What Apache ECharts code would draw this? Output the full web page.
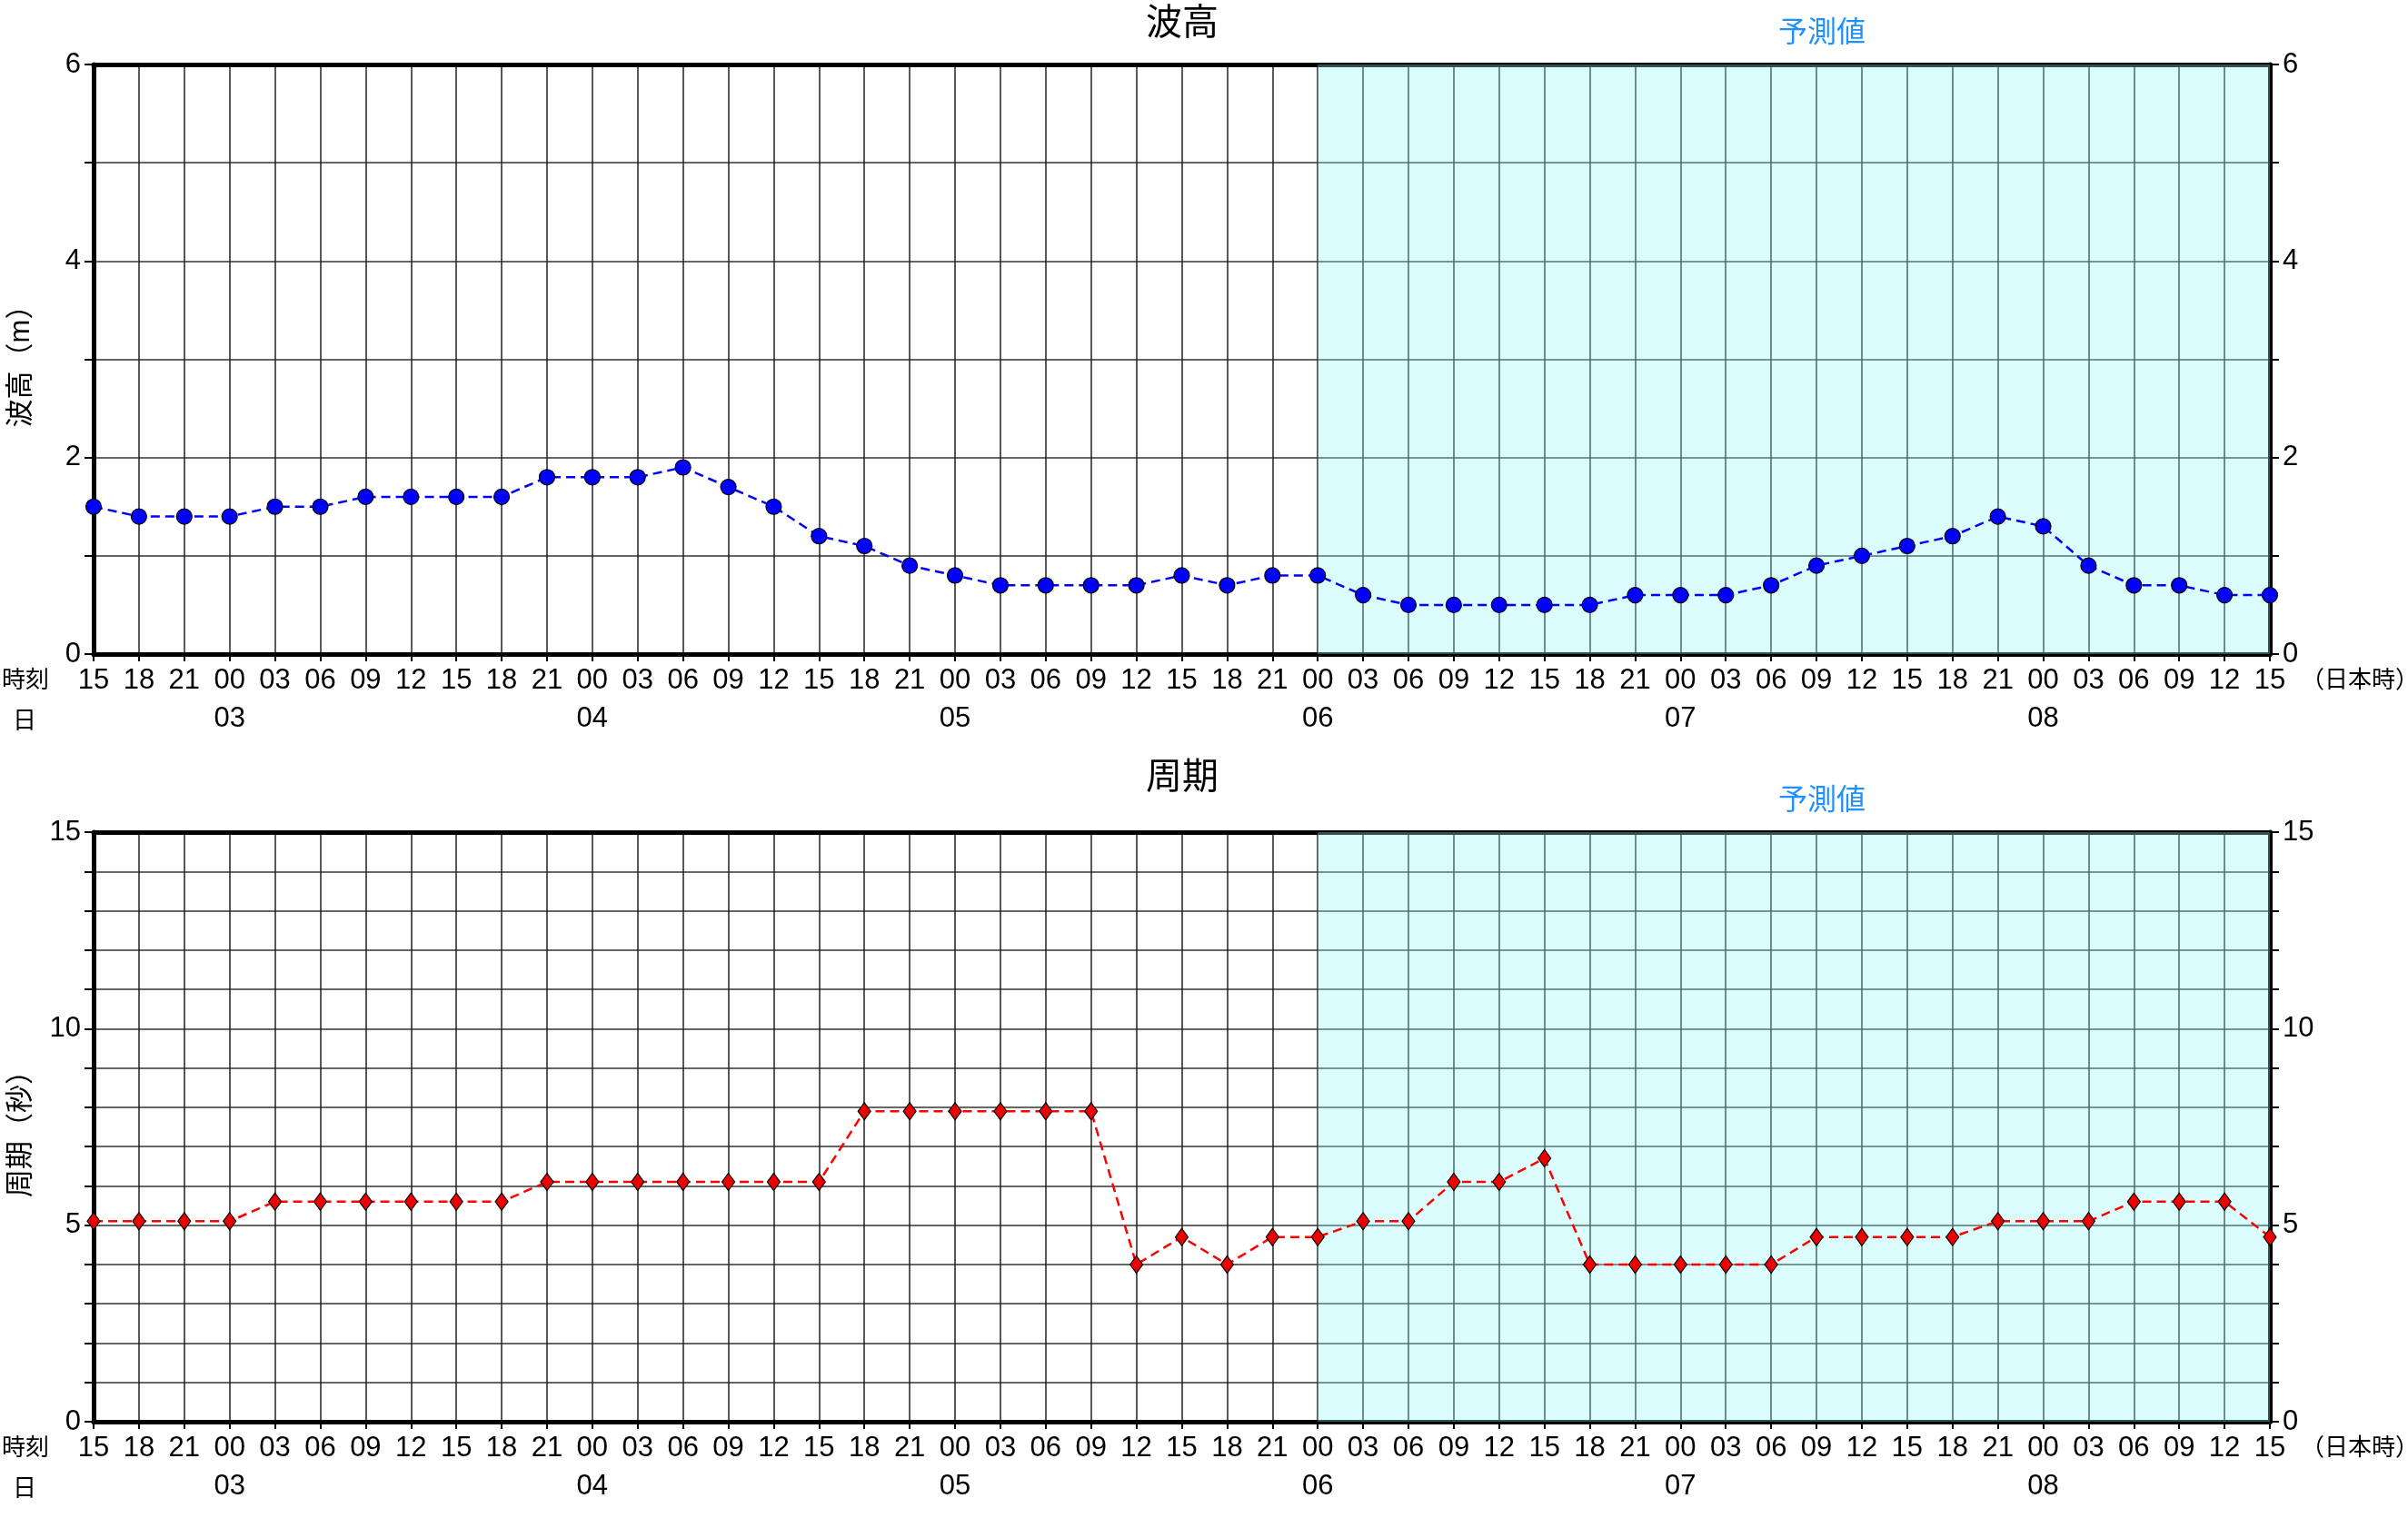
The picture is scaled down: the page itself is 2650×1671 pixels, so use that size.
<!DOCTYPE html>
<html><head><meta charset="utf-8">
<script src="https://cdn.jsdelivr.net/npm/echarts@6/dist/echarts.min.js"></script>
<style>html,body{margin:0;padding:0;background:#fff}#c{width:2650px;height:1671px}</style>
</head><body><div id="c"></div>
<script>
const hours = ['15','18','21','00','03','06','09','12','15','18','21','00','03','06','09','12','15','18','21','00','03','06','09','12','15','18','21','00','03','06','09','12','15','18','21','00','03','06','09','12','15','18','21','00','03','06','09','12','15'];
const days = ['','','','03','','','','','','','','04','','','','','','','','05','','','','','','','','06','','','','','','','','07','','','','','','','','08','','','','',''];
const waveHeight = [1.5,1.4,1.4,1.4,1.5,1.5,1.6,1.6,1.6,1.6,1.8,1.8,1.8,1.9,1.7,1.5,1.2,1.1,0.9,0.8,0.7,0.7,0.7,0.7,0.8,0.7,0.8,0.8,0.6,0.5,0.5,0.5,0.5,0.5,0.6,0.6,0.6,0.7,0.9,1.0,1.1,1.2,1.4,1.3,0.9,0.7,0.7,0.6,0.6];
const wavePeriod = [5.1,5.1,5.1,5.1,5.6,5.6,5.6,5.6,5.6,5.6,6.1,6.1,6.1,6.1,6.1,6.1,6.1,7.9,7.9,7.9,7.9,7.9,7.9,4.0,4.7,4.0,4.7,4.7,5.1,5.1,6.1,6.1,6.7,4.0,4.0,4.0,4.0,4.0,4.7,4.7,4.7,4.7,5.1,5.1,5.1,5.6,5.6,5.6,4.7];
const forecastStart = '06';
const idx = i => String(i);
const cats = hours.map((h,i)=>idx(i));
const fs = 31, font = "'Liberation Sans','Noto Sans CJK JP',sans-serif";
const grids = [{left:95,right:152,top:71,height:649},{left:95,right:152,top:916,height:649}];
function xAxes(g){
  return [
    {type:'category',gridIndex:g,data:cats,boundaryGap:false,position:'bottom',
     axisLine:{lineStyle:{color:'#000',width:5}},axisTick:{show:true,interval:0,length:8,lineStyle:{color:'#000',width:2}},
     axisLabel:{interval:0,formatter:(v)=>hours[+v],color:'#000',fontSize:fs,fontFamily:font,margin:14},
     splitLine:{show:true,interval:0,lineStyle:{color:'#222',width:1.5}}},
    {type:'category',gridIndex:g,data:cats,boundaryGap:false,position:'bottom',offset:42,
     axisLine:{show:false},axisTick:{show:false},splitLine:{show:false},
     axisLabel:{interval:0,formatter:(v)=>days[+v],color:'#000',fontSize:fs,fontFamily:font,margin:14}},
    {type:'category',gridIndex:g,data:cats,boundaryGap:false,position:'top',splitLine:{show:false},
     axisLine:{lineStyle:{color:'#000',width:5}},axisTick:{show:false},axisLabel:{show:false}}
  ];
}
function yAxes(g,max,iv,name){
  const common={type:'value',gridIndex:g,min:0,max:max,interval:1,
    axisLabel:{color:'#000',fontSize:fs,fontFamily:font,margin:14,formatter:v=>(v%iv===0?String(v):'')},
    axisTick:{show:true,length:10,lineStyle:{color:'#000',width:2}},
    axisLine:{show:true,lineStyle:{color:'#000',width:5}}};
  return [
    Object.assign({},common,{position:'left',name:name,nameLocation:'middle',nameGap:64,nameRotate:90,
      nameTextStyle:{color:'#000',fontSize:fs,fontFamily:font},
      splitLine:{show:true,lineStyle:{color:'#333',width:1.5}}}),
    Object.assign({},common,{position:'right',splitLine:{show:false}})
  ];
}
const fi = days.indexOf(forecastStart);
const area = {silent:true,itemStyle:{color:'rgba(150,250,250,0.33)'},data:[[{xAxis:idx(fi)},{xAxis:idx(hours.length-1)}]]};
const option = {
  backgroundColor:'#fff',animation:false,
  title:[
    {text:'波高',left:1296,top:2,textAlign:'center',textStyle:{fontSize:40,fontWeight:'normal',color:'#000',fontFamily:font}},
    {text:'周期',left:1296,top:832,textAlign:'center',textStyle:{fontSize:40,fontWeight:'normal',color:'#000',fontFamily:font}},
    {text:'予測値',left:2000,top:16,textAlign:'center',textStyle:{fontSize:32,fontWeight:'normal',color:'#1e90ff',fontFamily:font}},
    {text:'予測値',left:2000,top:861,textAlign:'center',textStyle:{fontSize:32,fontWeight:'normal',color:'#1e90ff',fontFamily:font}}
  ],
  grid:grids,
  xAxis:[...xAxes(0),...xAxes(1)],
  yAxis:[...yAxes(0,6,2,'波高（m）'),...yAxes(1,15,5,'周期（秒）')],
  graphic:[
    {type:'text',left:2,top:737,style:{text:'時刻',fontSize:26,fontFamily:font,fill:'#000'}},
    {type:'text',left:14,top:782,style:{text:'日',fontSize:26,fontFamily:font,fill:'#000'}},
    {type:'text',left:2532,top:737,style:{text:'（日本時）',fontSize:26,fontFamily:font,fill:'#000'}},
    {type:'text',left:2,top:1582,style:{text:'時刻',fontSize:26,fontFamily:font,fill:'#000'}},
    {type:'text',left:14,top:1627,style:{text:'日',fontSize:26,fontFamily:font,fill:'#000'}},
    {type:'text',left:2532,top:1582,style:{text:'（日本時）',fontSize:26,fontFamily:font,fill:'#000'}}
  ],
  series:[
    {type:'line',xAxisIndex:0,yAxisIndex:0,data:waveHeight,symbol:'circle',symbolSize:17,
     lineStyle:{color:'#0000ff',width:2.5,type:[10,6]},itemStyle:{color:'#0000ff',borderColor:'#000',borderWidth:1.2},
     markArea:area,z:5},
    {type:'line',xAxisIndex:3,yAxisIndex:2,data:wavePeriod,symbol:'diamond',symbolSize:[14,19],
     lineStyle:{color:'#ff0000',width:2.5,type:[10,6]},itemStyle:{color:'#ee0000',borderColor:'#000',borderWidth:1.2},
     markArea:area,z:5}
  ]
};
echarts.init(document.getElementById('c')).setOption(option);
</script></body></html>
